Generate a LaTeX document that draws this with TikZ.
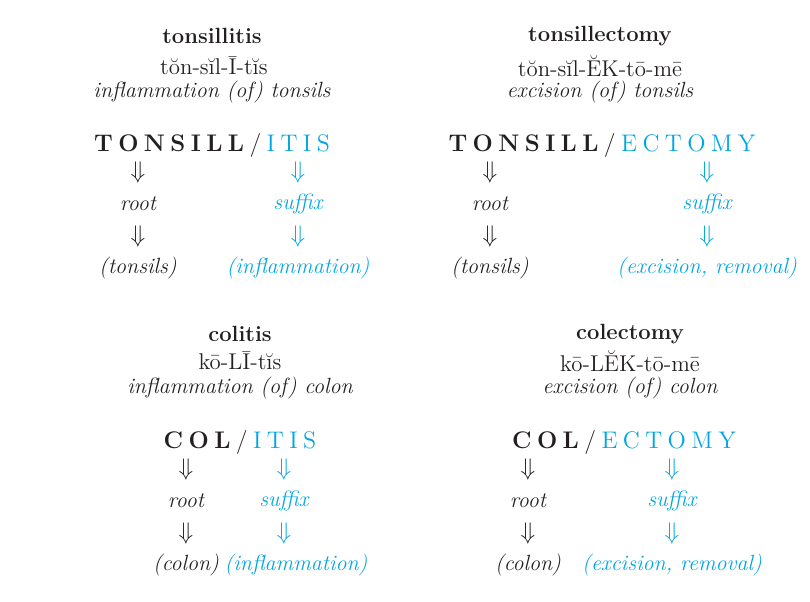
\documentclass[tikz,border=0pt]{standalone}
\usepackage{fontspec}
\usetikzlibrary{positioning}
\definecolor{inkgray}{RGB}{35,31,32}
\definecolor{sfxblue}{RGB}{0,166,226}
% letter-spaced capitals: a kern after every letter
\newcommand\lsp{2.7pt}
\def\spaceout#1{\spaceoutx#1\relax}
\def\spaceoutx#1{\ifx#1\relax\else#1\kern\lsp\expandafter\spaceoutx\fi}
\tikzset{node distance=16pt, % spacing of the root/suffix columns
      every node/.style={inner sep=0pt, text=inkgray},
      term/.style={font=\fontsize{11}{13}\selectfont\bfseries}, % headword
      pron/.style={font=\fontsize{11.4}{13}\selectfont}, % pronunciation
      gloss/.style={font=\fontsize{11}{13}\selectfont\itshape}, % meaning line
      split/.style={font=\fontsize{12}{14}\selectfont},
      part/.style={font=\fontsize{11}{13}\selectfont\itshape}, % root, suffix, meanings
      dn/.style={font=\large}, % down arrow glyph
      sfx/.style={text=sfxblue}}

\begin{document}
\begin{tikzpicture}[x=0.5pt, y=-0.5pt]
      \useasboundingbox (0,0) rectangle (810,601);
      % tonsillitis
      \node[term] (t1) at (212,36) {tonsillitis};
      \node[pron] (p1) at (214,66) {tŏn-sĭl-Ī-tĭs};
      \node[gloss] (g1) at (212,92) {inflammation (of) tonsils};
      \node[split] (w1) at (212,145) {\textbf{\spaceout{TONSILL}}\spaceout{/}\textcolor{sfxblue}{\spaceout{ITIS}}\kern-\lsp};
      \node[dn] (ra1) at (138,172) {$\Downarrow$};
      \node[part, below of=ra1] (r1) {root};
      \node[dn, below of=r1] (rb1) {$\Downarrow$};
      \node[part, below of=rb1] (m1) {(tonsils)};
      \node[dn, sfx] (sa1) at (298,172) {$\Downarrow$};
      \node[part, sfx, below of=sa1] (s1) {suffix};
      \node[dn, sfx, below of=s1] (sb1) {$\Downarrow$};
      \node[part, sfx, below of=sb1] (n1) {(inflammation)};
      % tonsillectomy
      \node[term] (t2) at (600,36) {tonsillectomy};
      \node[pron] (p2) at (600,66) {tŏn-sĭl-ĔK-tō-mē};
      \node[gloss] (g2) at (600,92) {excision (of) tonsils};
      \node[split] (w2) at (602,145) {\textbf{\spaceout{TONSILL}}\spaceout{/}\textcolor{sfxblue}{\spaceout{ECTOMY}}\kern-\lsp};
      \node[dn] (ra2) at (490,172) {$\Downarrow$};
      \node[part, below of=ra2] (r2) {root};
      \node[dn, below of=r2] (rb2) {$\Downarrow$};
      \node[part, below of=rb2] (m2) {(tonsils)};
      \node[dn, sfx] (sa2) at (707,172) {$\Downarrow$};
      \node[part, sfx, below of=sa2] (s2) {suffix};
      \node[dn, sfx, below of=s2] (sb2) {$\Downarrow$};
      \node[part, sfx, below of=sb2] (n2) {(excision, removal)};
      % colitis
      \node[term] (t3) at (240,334) {colitis};
      \node[pron] (p3) at (240,361) {kō-LĪ-tĭs};
      \node[gloss] (g3) at (240,388) {inflammation (of) colon};
      \node[split] (w3) at (240,442) {\textbf{\spaceout{COL}}\spaceout{/}\textcolor{sfxblue}{\spaceout{ITIS}}\kern-\lsp};
      \node[dn] (ra3) at (186,469) {$\Downarrow$};
      \node[part, below of=ra3] (r3) {root};
      \node[dn, below of=r3] (rb3) {$\Downarrow$};
      \node[part, below of=rb3] (m3) {(colon)};
      \node[dn, sfx] (sa3) at (284,469) {$\Downarrow$};
      \node[part, sfx, below of=sa3] (s3) {suffix};
      \node[dn, sfx, below of=s3] (sb3) {$\Downarrow$};
      \node[part, sfx, below of=sb3, xshift=6pt] (n3) {(inflammation)};
      % colectomy
      \node[term] (t4) at (630,334) {colectomy};
      \node[pron] (p4) at (630,361) {kō-LĔK-tō-mē};
      \node[gloss] (g4) at (630,388) {excision (of) colon};
      \node[split] (w4) at (624,442) {\textbf{\spaceout{COL}}\spaceout{/}\textcolor{sfxblue}{\spaceout{ECTOMY}}\kern-\lsp};
      \node[dn] (ra4) at (528,469) {$\Downarrow$};
      \node[part, below of=ra4] (r4) {root};
      \node[dn, below of=r4] (rb4) {$\Downarrow$};
      \node[part, below of=rb4] (m4) {(colon)};
      \node[dn, sfx] (sa4) at (672,469) {$\Downarrow$};
      \node[part, sfx, below of=sa4] (s4) {suffix};
      \node[dn, sfx, below of=s4] (sb4) {$\Downarrow$};
      \node[part, sfx, below of=sb4] (n4) {(excision, removal)};
\end{tikzpicture}
\end{document}
